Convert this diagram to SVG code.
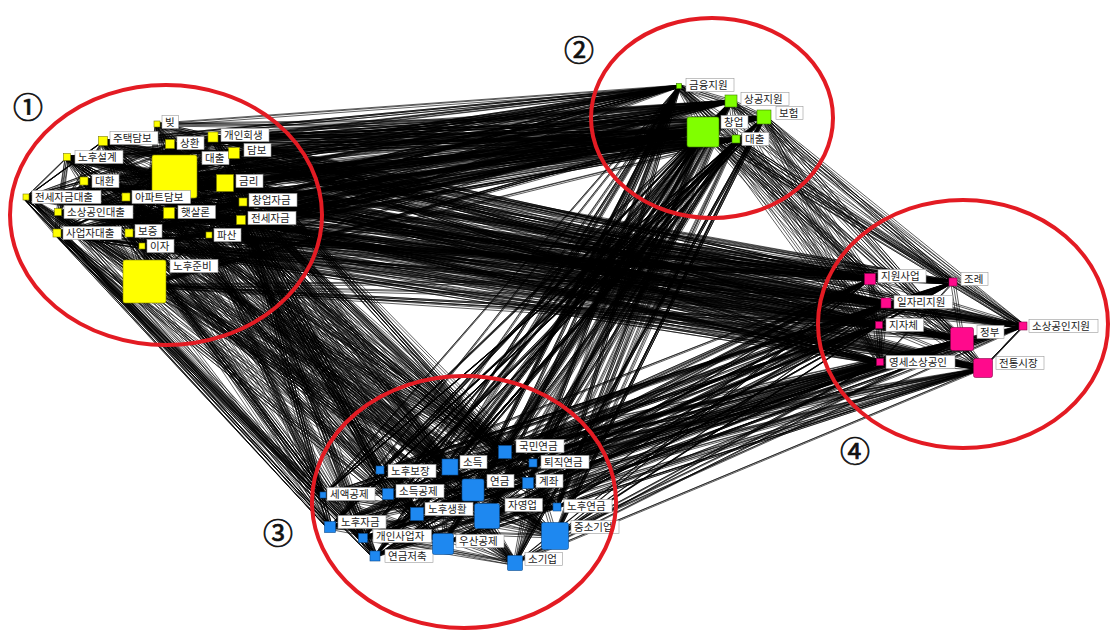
<svg xmlns="http://www.w3.org/2000/svg" width="1111" height="632" viewBox="0 0 1111 632">
<style>
.e{fill:none;stroke:#000;stroke-width:0.7;stroke-opacity:0.9;stroke-linejoin:round}
.y{fill:#ffff00;stroke:#7d7d00;stroke-width:.6}
.g{fill:#80ff00;stroke:#3d7a00;stroke-width:.6}
.p{fill:#ff0a8c;stroke:#8a0048;stroke-width:.6}
.b{fill:#1e88f0;stroke:#0b4a8c;stroke-width:.6}
.lb{fill:#fff;stroke:#9a9a9a;stroke-width:.6}
.t{font-family:"Noto Sans CJK KR","Noto Sans",sans-serif;font-size:10.5px;fill:#222}
.ring{fill:none;stroke:#e31b23;stroke-width:4}
.num{font-family:"Noto Sans CJK KR","DejaVu Sans",sans-serif;font-size:30px;fill:#111;stroke:#111;stroke-width:0.7;text-anchor:middle}
</style>
<rect width="1111" height="632" fill="#fff"/>
<g id="edges">
<g id="edgebase">
<polyline class="e" points="157,124 679,86 103,141 731,101 170,144 764,117 213,137 703,131 67,157 736,139 175,178 679,86 234,153 731,101 84,181 764,117 225,183 703,131 126,197 736,139 26,197 679,86 243,202 731,101 58,212 764,117 169,213 703,131 241,220 736,139 57,233 679,86 129,233 731,101 209,235 764,117 142,246 703,131 144,285 736,139"/>
<polyline class="e" points="157,124 764,117 103,141 736,139 170,144 731,101 213,137 703,131 67,157 679,86 175,178 764,117 234,153 736,139 84,181 731,101 225,183 703,131 126,197 679,86 26,197 764,117 243,202 736,139 58,212 731,101 169,213 703,131 241,220 679,86 57,233 764,117 129,233 736,139 209,235 731,101 142,246 703,131 144,285 679,86"/>
<polyline class="e" points="157,124 703,131 103,141 679,86 170,144 736,139 213,137 764,117 67,157 731,101 175,178 703,131 234,153 679,86 84,181 736,139 225,183 764,117 126,197 731,101 26,197 703,131 243,202 679,86 58,212 736,139 169,213 764,117 241,220 731,101 57,233 703,131 129,233 679,86 209,235 736,139 142,246 764,117 144,285 731,101"/>
<polyline class="e" points="157,124 505,452 103,141 450,467 170,144 380,470 213,137 533,463 67,157 473,490 175,178 528,483 234,153 323,495 84,181 388,494 225,183 417,514 126,197 487,516 26,197 557,507 243,202 330,527 58,212 555,536 169,213 363,538 241,220 375,556 57,233 443,544 129,233 515,563 209,235 505,452 142,246 450,467 144,285 380,470"/>
<polyline class="e" points="144,285 533,463 142,246 473,490 209,235 528,483 129,233 323,495 57,233 388,494 241,220 417,514 169,213 487,516 58,212 557,507 243,202 330,527 26,197 555,536 126,197 363,538 225,183 375,556 84,181 443,544 234,153 515,563 175,178 505,452 67,157 450,467 213,137 380,470 170,144 533,463 103,141 473,490 157,124 528,483"/>
<polyline class="e" points="157,124 417,514 103,141 555,536 170,144 515,563 213,137 380,470 67,157 323,495 175,178 557,507 234,153 375,556 84,181 450,467 225,183 528,483 126,197 487,516 26,197 363,538 243,202 505,452 58,212 473,490 169,213 388,494 241,220 330,527 57,233 443,544 129,233 533,463 209,235 417,514 142,246 555,536 144,285 515,563"/>
<polyline class="e" points="144,285 330,527 142,246 375,556 209,235 323,495 129,233 363,538 57,233 380,470 241,220 388,494 169,213 443,544 58,212 487,516 243,202 450,467 26,197 473,490 126,197 515,563 225,183 555,536 84,181 528,483 234,153 557,507 175,178 533,463 67,157 505,452 213,137 417,514 170,144 330,527 103,141 375,556 157,124 323,495"/>
<polyline class="e" points="26,197 323,495 57,233 330,527 26,197 375,556 58,212 363,538 57,233 375,556 26,197 330,527"/>
<polyline class="e" points="157,124 870,279 103,141 953,282 170,144 886,303 213,137 879,325 67,157 962,339 175,178 1023,326 234,153 880,362 84,181 983,368 225,183 870,279 126,197 953,282 26,197 886,303 243,202 879,325 58,212 962,339 169,213 1023,326 241,220 880,362 57,233 983,368 129,233 870,279 209,235 953,282 142,246 886,303 144,285 879,325"/>
<polyline class="e" points="144,285 962,339 142,246 983,368 209,235 870,279 129,233 879,325 57,233 880,362 241,220 953,282 169,213 886,303 58,212 1023,326 243,202 962,339 26,197 983,368 126,197 870,279 225,183 879,325 84,181 880,362 234,153 953,282 175,178 886,303 67,157 1023,326 213,137 962,339 170,144 983,368 103,141 870,279 157,124 879,325"/>
<polyline class="e" points="157,124 880,362 103,141 886,303 170,144 879,325 213,137 870,279 67,157 983,368 175,178 962,339 234,153 1023,326 84,181 953,282 225,183 880,362 126,197 886,303 26,197 879,325 243,202 870,279 58,212 983,368 169,213 962,339 241,220 1023,326 57,233 953,282 129,233 880,362 209,235 886,303 142,246 879,325 144,285 870,279"/>
<polyline class="e" points="679,86 505,452 731,101 450,467 764,117 380,470 703,131 533,463 736,139 473,490 679,86 528,483 731,101 323,495 764,117 388,494 703,131 417,514 736,139 487,516 679,86 557,507 731,101 330,527 764,117 555,536 703,131 363,538 736,139 375,556 679,86 443,544 731,101 515,563 764,117"/>
<polyline class="e" points="736,139 505,452 703,131 450,467 764,117 380,470 731,101 533,463 679,86 473,490 736,139 528,483 703,131 323,495 764,117 388,494 731,101 417,514 679,86 487,516 736,139 557,507 703,131 330,527 764,117 555,536 731,101 363,538 679,86 375,556 736,139 443,544 703,131 515,563 764,117"/>
<polyline class="e" points="764,117 515,563 679,86 443,544 703,131 375,556 731,101 363,538 736,139 555,536 764,117 330,527 679,86 557,507 703,131 487,516 731,101 417,514 736,139 388,494 764,117 323,495 679,86 528,483 703,131 473,490 731,101 533,463 736,139 380,470 764,117 450,467 679,86 505,452 703,131"/>
<polyline class="e" points="679,86 870,279 731,101 953,282 764,117 886,303 703,131 879,325 736,139 962,339 679,86 1023,326 731,101 880,362 764,117 983,368 703,131 870,279 736,139 886,303 679,86 962,339 731,101 983,368 764,117 1023,326 703,131 953,282 736,139 880,362 679,86 879,325 764,117 953,282 736,139 1023,326 703,131 983,368"/>
<polyline class="e" points="505,452 870,279 450,467 953,282 380,470 886,303 533,463 879,325 473,490 962,339 528,483 1023,326 323,495 880,362 388,494 983,368 417,514 870,279 487,516 953,282 557,507 886,303 330,527 879,325 555,536 962,339 363,538 1023,326 375,556 880,362 443,544 983,368 515,563 870,279"/>
<polyline class="e" points="515,563 962,339 443,544 953,282 375,556 983,368 363,538 886,303 555,536 880,362 330,527 870,279 557,507 1023,326 487,516 879,325 417,514 962,339 388,494 953,282 323,495 983,368 528,483 886,303 473,490 880,362 533,463 870,279 380,470 1023,326 450,467 879,325 505,452 962,339"/>
<polyline class="e" points="505,452 879,325 450,467 983,368 380,470 953,282 533,463 1023,326 473,490 870,279 528,483 962,339 323,495 886,303 388,494 880,362 417,514 879,325 487,516 983,368 557,507 953,282 330,527 1023,326 555,536 870,279 363,538 962,339 375,556 886,303 443,544 880,362 515,563 879,325"/>
<polyline class="e" points="157,124 175,178 103,141 225,183 170,144 126,197 213,137 169,213 67,157 144,285 234,153 58,212 84,181 241,220 26,197 175,178 243,202 129,233 57,233 225,183 209,235 67,157 142,246 103,141 144,285 213,137 84,181 170,144 26,197 126,197 58,212 169,213 57,233 142,246 129,233 175,178 209,235 234,153 157,124"/>
<polyline class="e" points="103,141 225,183 67,157 243,202 84,181 241,220 126,197 209,235 58,212 234,153 57,233 213,137 142,246 157,124 144,285 225,183 26,197 169,213 170,144 129,233 175,178 57,233 243,202 67,157 241,220 58,212 209,235 103,141"/>
<polyline class="e" points="157,124 169,213 103,141 209,235 67,157 225,183 84,181 243,202 26,197 144,285 58,212 175,178 142,246 234,153 57,233 241,220 126,197 213,137 129,233 170,144 144,285 243,202"/>
<polyline class="e" points="67,157 26,197 103,141 26,197 84,181 26,197 57,233 58,212 67,157 57,233 103,141 58,212"/>
<polyline class="e" points="505,452 417,514 450,467 330,527 380,470 555,536 533,463 375,556 473,490 323,495 528,483 363,538 388,494 515,563 487,516 330,527 557,507 443,544 505,452 487,516 380,470 515,563 323,495 555,536 450,467 375,556 417,514 557,507 363,538 443,544 388,494 473,490 505,452"/>
<polyline class="e" points="450,467 555,536 380,470 487,516 323,495 443,544 388,494 557,507 417,514 505,452 330,527 528,483 363,538 473,490 375,556 533,463 515,563 450,467 443,544 380,470 417,514 528,483 487,516 555,536 330,527 515,563 363,538 533,463"/>
<polyline class="e" points="870,279 953,282 886,303 962,339 879,325 983,368 880,362 962,339 1023,326 953,282 879,325 886,303 983,368 1023,326 870,279 880,362 886,303 1023,326 983,368 962,339 870,279 879,325 880,362 953,282 962,339"/>
<polyline class="e" points="679,86 731,101 764,117 703,131 736,139 679,86 764,117 736,139 731,101 703,131 679,86"/>
</g>
<use href="#edgebase" transform="translate(2,-1)"/>
<use href="#edgebase" transform="translate(-2,2)"/>
</g>
<g id="cluster1">
<g id="n-bit"><rect class="y" x="154" y="121" width="6" height="6"/><rect class="lb" x="162" y="115.5" width="16.5" height="13"/><text class="t" x="165" y="125.7">빚</text></g>
<g id="n-jutaekdambo"><rect class="y" x="98.5" y="136.5" width="9" height="9"/><rect class="lb" x="110" y="131.5" width="48" height="13"/><text class="t" x="113" y="141.7">주택담보</text></g>
<g id="n-sanghwan"><rect class="y" x="165.5" y="139.5" width="9" height="9"/><rect class="lb" x="177" y="136.5" width="27" height="13"/><text class="t" x="180" y="146.7">상환</text></g>
<g id="n-gaeinhoesaeng"><rect class="y" x="208" y="132" width="10" height="10"/><rect class="lb" x="221" y="128.5" width="48" height="13"/><text class="t" x="224" y="138.7">개인회생</text></g>
<g id="n-nohuseolgye"><rect class="y" x="63.5" y="153.5" width="7" height="7"/><rect class="lb" x="75" y="150.5" width="48" height="13"/><text class="t" x="78" y="160.7">노후설계</text></g>
<g id="n-daechul"><rect class="y" x="152" y="155" width="45" height="43" rx="2"/><rect class="lb" x="202" y="151.5" width="27" height="13"/><text class="t" x="205" y="161.7">대출</text></g>
<g id="n-dambo"><rect class="y" x="228.5" y="147.5" width="11" height="11"/><rect class="lb" x="244" y="143.5" width="27" height="13"/><text class="t" x="247" y="153.7">담보</text></g>
<g id="n-daehwan"><rect class="y" x="80" y="177" width="8" height="8"/><rect class="lb" x="92" y="174.5" width="27" height="13"/><text class="t" x="95" y="184.7">대환</text></g>
<g id="n-geumri"><rect class="y" x="216.5" y="174.5" width="17" height="17"/><rect class="lb" x="236" y="174.5" width="27" height="13"/><text class="t" x="239" y="184.7">금리</text></g>
<g id="n-apateudambo"><rect class="y" x="122" y="193" width="8" height="8"/><rect class="lb" x="132" y="190.5" width="58.5" height="13"/><text class="t" x="135" y="200.7">아파트담보</text></g>
<g id="n-jeonsejageumdaechul"><rect class="y" x="23" y="194" width="6" height="6"/><rect class="lb" x="32" y="190.5" width="69" height="13"/><text class="t" x="35" y="200.7">전세자금대출</text></g>
<g id="n-changeopjageum"><rect class="y" x="239" y="198" width="8" height="8"/><rect class="lb" x="249" y="193.5" width="48" height="13"/><text class="t" x="252" y="203.7">창업자금</text></g>
<g id="n-sosanggongindaechul"><rect class="y" x="54.5" y="208.5" width="7" height="7"/><rect class="lb" x="64" y="205.5" width="69" height="13"/><text class="t" x="67" y="215.7">소상공인대출</text></g>
<g id="n-haetsallon"><rect class="y" x="163.5" y="207.5" width="11" height="11"/><rect class="lb" x="178" y="205.5" width="37.5" height="13"/><text class="t" x="181" y="215.7">햇살론</text></g>
<g id="n-jeonsejageum"><rect class="y" x="236.5" y="215.5" width="9" height="9"/><rect class="lb" x="248" y="211.5" width="48" height="13"/><text class="t" x="251" y="221.7">전세자금</text></g>
<g id="n-saeopjadaechul"><rect class="y" x="53" y="229" width="8" height="8"/><rect class="lb" x="63" y="226.5" width="58.5" height="13"/><text class="t" x="66" y="236.7">사업자대출</text></g>
<g id="n-bojeung"><rect class="y" x="125" y="229" width="8" height="8"/><rect class="lb" x="135" y="224.5" width="27" height="13"/><text class="t" x="138" y="234.7">보증</text></g>
<g id="n-pasan"><rect class="y" x="206" y="232" width="6" height="6"/><rect class="lb" x="214" y="228.5" width="27" height="13"/><text class="t" x="217" y="238.7">파산</text></g>
<g id="n-ija"><rect class="y" x="139" y="243" width="6" height="6"/><rect class="lb" x="147" y="239.5" width="27" height="13"/><text class="t" x="150" y="249.7">이자</text></g>
<g id="n-nohujunbi"><rect class="y" x="123" y="260" width="43" height="43" rx="2"/><rect class="lb" x="170" y="259.5" width="48" height="13"/><text class="t" x="173" y="269.7">노후준비</text></g>
</g>
<g id="cluster2">
<g id="n-geumyungjiwon"><rect class="g" x="676.5" y="83.5" width="5" height="5"/><rect class="lb" x="686" y="78.5" width="48" height="13"/><text class="t" x="689" y="88.7">금융지원</text></g>
<g id="n-sanggongjiwon"><rect class="g" x="725" y="95" width="12" height="12"/><rect class="lb" x="741" y="92.5" width="48" height="13"/><text class="t" x="744" y="102.7">상공지원</text></g>
<g id="n-boheom"><rect class="g" x="757" y="110" width="14" height="14"/><rect class="lb" x="776" y="106.5" width="27" height="13"/><text class="t" x="779" y="116.7">보험</text></g>
<g id="n-changeop"><rect class="g" x="687" y="117" width="32" height="30" rx="2"/><rect class="lb" x="721" y="115.5" width="27" height="13"/><text class="t" x="724" y="125.7">창업</text></g>
<g id="n-daechul2"><rect class="g" x="732" y="135" width="8" height="8"/><rect class="lb" x="742" y="132.5" width="27" height="13"/><text class="t" x="745" y="142.7">대출</text></g>
</g>
<g id="cluster4">
<g id="n-jiwonsaeop"><rect class="p" x="864.5" y="273.5" width="11" height="11"/><rect class="lb" x="878" y="269.5" width="48" height="13"/><text class="t" x="881" y="279.7">지원사업</text></g>
<g id="n-jorye"><rect class="p" x="949" y="278" width="8" height="8"/><rect class="lb" x="961" y="272.5" width="27" height="13"/><text class="t" x="964" y="282.7">조례</text></g>
<g id="n-iljarijiwon"><rect class="p" x="881" y="298" width="10" height="10"/><rect class="lb" x="894" y="295.5" width="58.5" height="13"/><text class="t" x="897" y="305.7">일자리지원</text></g>
<g id="n-jijache"><rect class="p" x="875.5" y="321.5" width="7" height="7"/><rect class="lb" x="886" y="318.5" width="37.5" height="13"/><text class="t" x="889" y="328.7">지자체</text></g>
<g id="n-jeongbu"><rect class="p" x="950.5" y="327.5" width="23" height="23" rx="2"/><rect class="lb" x="977" y="325.5" width="27" height="13"/><text class="t" x="980" y="335.7">정부</text></g>
<g id="n-sosanggonginjiwon"><rect class="p" x="1019" y="322" width="8" height="8"/><rect class="lb" x="1029" y="319.5" width="69" height="13"/><text class="t" x="1032" y="329.7">소상공인지원</text></g>
<g id="n-yeongsesosanggongin"><rect class="p" x="876.5" y="358.5" width="7" height="7"/><rect class="lb" x="886" y="355.5" width="69" height="13"/><text class="t" x="889" y="365.7">영세소상공인</text></g>
<g id="n-jeontongsijang"><rect class="p" x="973.5" y="358.5" width="19" height="19" rx="2"/><rect class="lb" x="996" y="356.5" width="48" height="13"/><text class="t" x="999" y="366.7">전통시장</text></g>
</g>
<g id="cluster3">
<g id="n-gukminyeongeum"><rect class="b" x="498.5" y="445.5" width="13" height="13"/><rect class="lb" x="516" y="439.5" width="48" height="13"/><text class="t" x="519" y="449.7">국민연금</text></g>
<g id="n-sodeuk"><rect class="b" x="442" y="459" width="16" height="16"/><rect class="lb" x="460" y="455.5" width="27" height="13"/><text class="t" x="463" y="465.7">소득</text></g>
<g id="n-nohubojang"><rect class="b" x="376" y="466" width="8" height="8"/><rect class="lb" x="388" y="464.5" width="48" height="13"/><text class="t" x="391" y="474.7">노후보장</text></g>
<g id="n-toejigyeongeum"><rect class="b" x="529" y="459" width="8" height="8"/><rect class="lb" x="541" y="455.5" width="48" height="13"/><text class="t" x="544" y="465.7">퇴직연금</text></g>
<g id="n-yeongeum"><rect class="b" x="462" y="479" width="22" height="22" rx="2"/><rect class="lb" x="487" y="474.5" width="27" height="13"/><text class="t" x="490" y="484.7">연금</text></g>
<g id="n-gyejwa"><rect class="b" x="522.5" y="477.5" width="11" height="11"/><rect class="lb" x="536" y="474.5" width="27" height="13"/><text class="t" x="539" y="484.7">계좌</text></g>
<g id="n-seaekgongje"><rect class="b" x="320" y="492" width="6" height="6"/><rect class="lb" x="327" y="487.5" width="48" height="13"/><text class="t" x="330" y="497.7">세액공제</text></g>
<g id="n-sodeukgongje"><rect class="b" x="382.5" y="488.5" width="11" height="11"/><rect class="lb" x="396" y="484.5" width="48" height="13"/><text class="t" x="399" y="494.7">소득공제</text></g>
<g id="n-nohusaenghwal"><rect class="b" x="410.5" y="507.5" width="13" height="13"/><rect class="lb" x="425" y="502.5" width="48" height="13"/><text class="t" x="428" y="512.7">노후생활</text></g>
<g id="n-jayeongeop"><rect class="b" x="474.5" y="503.5" width="25" height="25" rx="2"/><rect class="lb" x="505" y="498.5" width="37.5" height="13"/><text class="t" x="508" y="508.7">자영업</text></g>
<g id="n-nohuyeongeum"><rect class="b" x="553" y="503" width="8" height="8"/><rect class="lb" x="564" y="499.5" width="48" height="13"/><text class="t" x="567" y="509.7">노후연금</text></g>
<g id="n-nohujageum"><rect class="b" x="324.5" y="521.5" width="11" height="11"/><rect class="lb" x="338" y="515.5" width="48" height="13"/><text class="t" x="341" y="525.7">노후자금</text></g>
<g id="n-jungsogieop"><rect class="b" x="541.5" y="522.5" width="27" height="27" rx="2"/><rect class="lb" x="571" y="520.5" width="48" height="13"/><text class="t" x="574" y="530.7">중소기업</text></g>
<g id="n-gaeinsaeopja"><rect class="b" x="358.5" y="533.5" width="9" height="9"/><rect class="lb" x="373" y="529.5" width="58.5" height="13"/><text class="t" x="376" y="539.7">개인사업자</text></g>
<g id="n-yeongeumjeochuk"><rect class="b" x="370" y="551" width="10" height="10"/><rect class="lb" x="385" y="549.5" width="48" height="13"/><text class="t" x="388" y="559.7">연금저축</text></g>
<g id="n-usangongje"><rect class="b" x="432.5" y="533.5" width="21" height="21" rx="2"/><rect class="lb" x="456" y="534.5" width="48" height="13"/><text class="t" x="459" y="544.7">우산공제</text></g>
<g id="n-sogieop"><rect class="b" x="507.5" y="555.5" width="15" height="15" rx="1"/><rect class="lb" x="525" y="552.5" width="37.5" height="13"/><text class="t" x="528" y="562.7">소기업</text></g>
</g>
<g id="annotations">
<ellipse class="ring" cx="166" cy="215" rx="156" ry="130"/>
<ellipse class="ring" cx="712" cy="118" rx="121" ry="100"/>
<ellipse class="ring" cx="464" cy="502" rx="152" ry="126"/>
<ellipse class="ring" cx="963" cy="324" rx="145" ry="124"/>
<text class="num" x="28" y="118">①</text>
<text class="num" x="579" y="61">②</text>
<text class="num" x="278" y="544">③</text>
<text class="num" x="855" y="462">④</text>
</g>
</svg>
